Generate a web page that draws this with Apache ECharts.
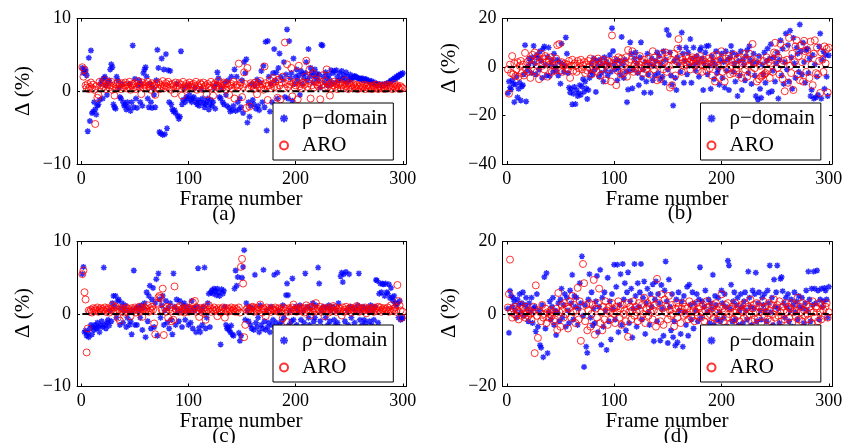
<!DOCTYPE html>
<html><head><meta charset="utf-8">
<script src="https://cdn.jsdelivr.net/npm/echarts@6/dist/echarts.min.js"></script>
<style>html,body{margin:0;padding:0;background:#fff}#c{width:847px;height:443px}</style>
</head><body><div id="c"></div><script>
const frames = Array.from({length: 300}, (_, i) => i + 1);
const xTickValues = [0, 100, 200, 300];
const seriesNames = ['ρ−domain', 'ARO'];
const panelTags = ['(a)', '(b)', '(c)', '(d)'];
const yRanges = [[-10, 10, 10], [-40, 20, 20], [-10, 10, 10], [-20, 20, 20]];

const rhoA = [
3.2,2.5,3.0,2.8,2.2,-5.5,4.6,-4.1,5.6,-3.0,-2.8,-1.5,-2.5,-3.2,-2.0,-1.8,-1.2,1.0,1.5,-1.0,
1.8,2.0,0.8,-0.5,1.2,1.5,3.0,3.7,3.3,-1.8,-2.2,-2.4,2.0,1.5,0.5,-0.8,-1.0,1.0,-1.5,-2.0,
-1.8,-2.5,-1.5,-2.2,1.0,-2.7,-1.5,6.3,-2.2,1.7,-1.0,-2.3,0.8,1.5,-1.5,1.0,-2.0,2.5,3.0,3.3,
2.0,-1.0,-2.2,1.0,-1.5,-2.3,0.5,-0.5,-2.2,1.5,5.7,3.2,-5.6,-5.8,4.5,-6.0,3.0,-5.9,5.1,-5.1,
2.9,-1.5,2.8,-1.8,-2.5,-2.8,-2.6,-3.0,1.0,-3.4,-3.8,-3.5,5.5,-1.8,-1.2,0.5,-1.5,-0.8,-1.0,0.8,
-0.5,-1.2,-1.5,-1.0,-0.8,0.5,-1.5,-1.8,-1.2,-2.0,-1.5,0.3,-1.0,-1.6,-2.2,-1.8,-1.4,-1.0,-2.5,-1.8,
-1.2,-2.0,-1.5,0.5,-2.4,1.0,2.6,1.8,-0.8,-1.0,0.5,-1.5,-1.8,1.2,-0.5,-2.0,1.5,-2.3,-2.8,2.0,
-2.6,-2.0,3.0,-2.7,2.0,-1.5,-2.5,-1.0,-2.2,1.5,-3.0,4.0,2.5,4.4,-4.3,-1.5,-3.5,-2.0,1.0,-1.2,
-1.8,0.8,-2.4,1.6,-2.0,-2.6,1.2,2.8,-1.5,3.5,-2.2,6.8,-5.4,6.9,2.0,-2.8,1.0,-1.5,2.5,5.8,
1.5,2.6,-1.0,3.2,5.2,2.0,-2.0,1.6,4.0,-0.8,2.3,8.5,-1.0,6.9,1.8,2.5,-1.3,4.5,1.0,2.0,
3.0,1.5,2.2,-0.5,2.8,1.0,2.4,1.8,2.5,4.0,1.5,5.8,2.0,3.2,2.6,1.2,2.2,3.0,1.8,2.4,
1.5,2.3,0.5,6.4,6.3,2.0,1.2,2.6,1.8,0.8,2.2,1.5,2.9,1.0,2.5,2.8,1.2,2.9,2.0,1.5,
2.5,1.6,2.8,1.8,2.2,1.4,2.6,1.2,2.0,1.5,2.3,1.6,1.8,2.0,2.1,2.0,1.9,1.8,1.8,1.7,
1.7,1.8,1.6,1.5,1.7,1.6,1.4,1.5,1.3,1.2,1.4,1.1,1.0,1.2,0.9,1.0,0.8,1.0,0.9,0.8,
0.9,0.8,1.0,0.9,1.1,1.0,1.2,1.3,1.5,1.4,1.6,1.8,1.7,2.0,1.9,2.2,2.1,2.4,2.3,2.5
];
const aroA = [
3.3,2.0,3.0,0.8,0.5,1.0,0.3,0.6,1.2,0.4,0.9,0.2,-4.5,0.7,-0.9,-0.5,1.3,0.8,0.4,1.1,
0.6,1.5,0.3,0.9,1.2,0.5,0.8,1.3,0.2,0.7,-0.6,1.0,0.4,1.2,0.6,0.9,0.3,1.1,0.5,0.8,
1.2,0.4,0.9,0.6,1.3,0.2,0.8,1.0,0.5,1.1,0.3,0.7,1.4,0.6,0.9,-0.4,1.2,0.5,0.8,1.0,
0.4,1.3,0.7,0.9,0.2,1.1,0.6,0.8,-0.5,1.0,0.5,1.2,0.3,0.9,0.7,1.4,0.4,0.8,1.1,0.6,
1.3,0.5,0.9,0.2,1.0,0.7,-0.3,1.2,0.6,0.8,1.1,0.4,0.9,-0.6,1.3,0.5,0.7,1.0,0.3,0.8,
1.2,0.6,0.9,0.4,1.0,0.7,1.3,0.2,0.8,0.5,1.1,0.9,0.3,1.2,0.6,0.8,-0.4,1.0,0.5,0.7,
1.3,0.4,-0.6,0.9,1.1,0.6,0.8,1.4,0.3,1.0,0.7,0.5,1.2,0.9,0.2,1.1,0.6,-0.5,0.8,1.0,
0.4,1.3,-1.0,0.7,0.9,0.5,3.8,0.8,1.2,-0.8,0.6,2.6,1.0,-2.3,3.2,0.4,-2.1,1.1,0.7,0.9,
0.3,1.2,0.8,-0.4,1.0,0.6,1.4,0.5,0.9,0.2,3.4,1.1,0.7,-1.2,0.8,1.5,0.4,1.0,1.8,0.6,
1.3,0.5,-0.9,1.6,0.8,-1.1,1.2,2.0,0.4,6.7,1.0,3.7,0.6,1.4,0.9,3.2,-0.7,1.1,0.5,0.8,
1.3,-1.1,3.5,0.7,1.0,0.4,1.2,0.9,2.0,4.2,0.6,1.1,3.0,-1.0,0.8,2.5,0.5,1.3,1.6,0.9,
0.7,1.2,-1.1,0.8,2.2,1.0,0.5,1.4,3.0,0.6,0.9,-0.6,1.1,0.4,0.8,1.3,0.6,1.0,0.3,0.9,
1.2,0.5,0.8,1.0,0.4,1.5,0.7,0.9,0.3,1.1,0.6,0.8,0.4,1.0,0.7,0.5,0.9,0.3,0.6,0.8,
0.4,0.7,0.5,0.9,0.3,0.6,0.8,0.4,0.7,0.5,0.3,0.8,0.6,0.4,0.9,0.5,0.3,0.7,0.6,0.4,
0.8,0.5,0.3,0.7,0.9,0.4,0.6,0.8,0.5,0.3,0.7,1.0,0.4,0.6,0.8,0.5,0.3,0.7,0.5,0.4
];
const rhoB = [
-10.8,-6.0,-8.5,-9.2,-5.5,-7.0,-14.5,-7.2,-4.0,-12.5,-9.0,-6.5,-13.8,-8.0,-7.5,-3.0,9.0,-14.2,-1.5,0.5,
3.5,2.0,-2.5,4.0,8.7,1.5,-3.0,5.0,3.8,-1.0,6.5,2.5,-4.5,7.6,8.5,0.8,-3.5,4.2,8.0,-3.7,
1.0,2.8,-2.0,5.5,0.3,-1.5,3.0,-3.5,2.2,-6.9,9.6,1.2,-2.0,0.5,12.2,5.5,-2.5,-8.5,-10.5,-9.0,
-15.4,-11.0,-8.2,-15.3,-9.5,-12.0,-10.8,-7.5,-11.5,-8.0,-5.0,-10.2,-6.0,-8.8,-13.2,-9.5,-4.5,-2.0,1.5,-3.0,
3.5,-1.0,-10.3,2.5,0.5,-4.0,3.0,-2.5,1.0,-6.0,4.0,-1.5,2.0,-3.5,0.8,5.0,-2.0,16.0,6.6,1.5,
-1.0,3.0,-5.5,-0.5,2.5,-3.0,12.4,1.0,-4.5,3.0,-2.0,-14.5,-9.3,-1.5,10.2,5.5,-8.8,-1.0,3.5,6.0,
1.5,-2.5,-7.5,4.0,10.2,-4.5,-1.0,-10.6,2.0,-6.0,5.5,-3.0,1.0,-10.6,3.5,-5.5,0.5,-3.5,2.5,6.0,
-2.5,4.5,-5.0,1.5,-4.0,6.5,-6.5,3.0,15.3,-1.0,13.2,6.0,-3.5,-7.3,-15.9,2.5,-4.5,-9.5,4.0,1.0,
8.0,-2.0,14.2,5.5,-6.5,2.5,8.0,-3.0,6.0,0.5,11.5,-6.5,3.5,8.0,1.0,-1.5,4.5,2.0,-4.0,7.0,
8.0,3.5,-9.5,1.5,6.0,8.6,-3.0,8.8,0.5,-9.0,4.5,2.5,-5.0,1.0,6.5,-2.5,-1.0,-7.3,3.0,5.5,
-4.5,2.0,-8.5,6.5,-1.5,3.0,-9.5,4.0,8.7,6.0,-2.0,1.5,-6.0,5.0,-12.0,2.5,-3.5,6.5,-9.5,3.0,
1.0,-5.5,4.5,7.0,-2.5,8.6,3.0,-7.0,1.5,5.5,-3.5,-12.0,2.0,-13.4,4.5,-9.0,-12.7,1.0,-3.0,6.0,
-6.5,2.5,7.6,-10.6,3.5,9.4,-10.0,-1.5,4.0,-6.0,1.5,6.0,-13.0,3.0,11.0,-3.5,7.5,-7.0,2.0,13.8,
-1.0,9.0,-6.0,15.0,4.0,-9.0,12.0,1.5,-4.5,8.0,5.5,-2.0,17.5,6.5,-3.0,10.0,2.0,-6.5,7.0,7.6,
-2.5,3.5,-12.0,-9.4,5.0,-13.0,1.0,-12.5,-4.0,-11.5,8.5,13.8,-13.0,3.0,6.5,-9.0,5.0,-4.0,-12.0,4.8
];
const aroB = [
-1.0,-11.0,1.0,-2.5,4.5,-3.0,1.5,-3.8,-1.0,2.0,-4.0,0.5,2.5,-2.5,1.0,-3.5,5.8,-1.0,2.0,-2.0,
3.0,-4.5,1.0,5.0,-1.5,6.0,2.5,-2.0,4.0,-5.0,2.0,5.5,0.5,3.5,-1.0,4.5,2.0,-4.0,3.0,1.0,
4.0,-2.0,2.5,0.5,-1.5,3.5,9.0,1.0,9.5,-1.5,2.0,-2.0,0.5,1.5,-0.5,1.0,-1.0,2.5,-4.5,0.5,
3.0,-1.5,1.5,0.5,-2.0,2.5,-0.5,1.5,3.0,-1.0,0.5,2.0,-2.5,1.0,-1.5,2.5,0.0,3.5,-3.0,1.5,
-1.0,2.5,0.5,-2.0,3.5,1.0,-3.5,2.0,-0.5,3.0,1.0,-5.5,0.5,2.5,-1.0,2.0,-6.0,13.0,1.5,0.5,
3.0,-7.5,-1.5,4.0,2.0,-3.0,3.5,0.5,-2.5,1.5,4.0,-4.0,7.0,2.0,-1.0,3.0,6.5,-2.0,1.0,-0.5,
2.5,-1.5,1.0,4.5,-0.5,2.0,-2.5,3.0,0.5,-1.0,1.5,3.5,-3.0,0.5,2.0,6.5,-1.0,4.0,1.5,-5.5,
0.5,3.0,-5.0,1.5,5.5,-1.0,2.0,6.0,-2.0,4.5,0.5,-8.5,3.0,-7.5,1.0,5.5,-3.5,2.5,7.5,11.5,
4.0,1.5,-2.0,3.0,0.5,2.0,4.5,1.0,3.5,2.0,-1.0,3.0,4.0,2.5,0.5,3.5,1.5,-1.5,2.5,4.5,
1.0,-2.0,3.0,0.5,2.0,-1.5,1.5,3.5,-0.5,2.5,-3.5,4.5,1.0,-6.0,2.0,5.0,0.5,-4.5,3.0,6.5,
-2.0,1.0,-6.0,3.5,-1.0,2.5,4.5,-3.0,0.5,2.0,-2.5,5.0,1.0,-1.5,3.5,-3.0,0.5,4.0,-4.5,1.5,
5.5,-1.0,2.5,-4.0,0.5,5.5,3.0,-2.5,9.5,1.5,-0.5,2.0,-6.0,3.5,-5.0,0.5,-4.0,-3.5,2.5,-3.0,
-2.5,4.0,-1.5,2.0,-4.5,1.5,3.0,-2.0,6.0,10.0,5.5,-0.5,4.0,-3.0,9.5,1.0,-5.0,2.5,-10.0,8.0,
3.0,-6.5,12.0,0.5,-2.5,5.5,-9.5,2.0,8.5,11.0,-3.0,4.5,-5.5,9.0,2.0,-6.0,10.8,6.5,-2.0,7.0,
3.5,-4.5,10.5,1.0,-7.5,5.5,11.0,-2.5,8.0,-3.0,2.5,-10.7,6.0,3.0,-2.0,8.5,1.5,7.5,-10.5,8.0
];
const rhoC = [
5.5,6.5,-2.5,-2.3,-3.0,-2.6,-3.2,-2.0,-1.5,-2.8,-1.8,-2.2,-1.5,-2.0,-1.2,-1.8,-2.5,-1.6,-1.0,-1.8,
6.4,-1.5,-2.0,-1.2,-0.8,-1.6,0.5,-1.0,1.5,2.5,1.0,2.5,-0.5,1.8,2.0,-1.5,0.8,1.5,-1.2,0.5,
1.2,-1.8,-0.5,0.5,-1.5,-1.0,-2.8,0.5,6.0,-1.5,0.8,-1.5,1.0,0.5,-0.5,1.2,-2.2,0.8,1.5,-3.2,
3.0,-1.0,2.5,3.9,-2.0,2.0,3.6,-1.8,1.5,4.8,-3.0,5.6,2.0,-0.5,1.2,2.5,-1.5,0.5,1.8,-1.2,
0.8,-2.0,1.5,-0.8,-2.8,5.6,1.0,-1.5,2.0,0.5,-1.0,1.8,0.5,-1.8,1.2,1.5,-0.8,0.5,1.0,-1.5,
0.5,-1.2,1.8,-2.0,0.8,0.5,-2.5,1.0,6.3,-1.9,-2.5,0.5,-1.5,1.0,6.4,-2.0,-0.5,1.5,2.8,-1.8,
3.0,3.3,2.8,3.5,3.2,2.6,3.5,3.0,2.5,-4.2,3.4,2.8,3.2,1.0,-1.5,-2.0,-1.8,-2.2,-2.5,-1.6,
-2.8,-3.0,3.5,6.0,3.9,5.1,-2.6,-3.7,-3.0,5.0,6.5,8.8,-0.8,1.5,0.5,-1.0,1.0,-1.5,-2.0,0.8,
-2.2,5.4,-1.2,-1.8,-0.5,-2.5,1.2,-1.5,-2.0,6.1,-1.0,-2.2,0.5,-1.8,-1.2,-2.5,1.0,-1.5,-0.8,5.4,
-2.0,-1.2,5.7,0.5,-1.5,-2.8,-1.0,1.2,-0.5,-2.0,2.6,4.2,2.6,-1.5,0.5,-1.0,4.9,-0.8,-1.8,1.0,
-1.5,0.5,-2.2,1.2,-0.8,-1.8,0.5,-1.2,5.6,-2.0,1.0,-0.5,-1.5,0.8,-2.5,1.5,-1.0,-0.5,1.2,-1.8,
6.4,4.2,-1.0,0.5,-1.8,1.0,-2.2,-0.5,0.8,-1.5,1.2,-1.0,0.5,-2.0,1.0,-0.8,-1.5,0.5,-1.2,1.5,
-1.8,5.2,5.7,4.4,5.5,-1.0,5.8,0.5,-1.5,5.5,1.0,-0.5,-1.8,0.8,-1.2,0.5,-2.0,1.2,5.6,-0.8,
0.5,-1.5,1.0,-0.8,-1.2,0.8,-1.8,0.5,-1.0,1.2,-1.5,0.5,-0.8,1.0,4.7,4.6,-1.2,2.8,4.2,3.0,
4.2,4.1,2.5,4.2,3.0,2.8,4.1,2.2,3.6,2.3,1.8,2.5,1.5,1.2,1.5,-0.5,1.8,-0.8,-0.5,-0.6
];
const aroC = [
5.5,6.0,3.0,2.0,-5.3,-2.0,0.5,0.3,0.6,0.2,0.8,0.4,0.7,0.5,0.9,0.3,0.6,0.8,0.4,0.7,
0.5,0.9,0.3,0.6,0.8,0.2,0.7,0.5,1.2,0.4,0.9,1.0,0.3,-0.5,0.6,-0.9,0.8,0.4,0.7,0.2,
0.6,0.9,0.3,0.7,0.5,-0.3,0.8,0.4,0.6,0.9,0.2,0.7,0.5,1.0,0.3,0.8,-0.4,0.6,0.9,0.4,
0.7,1.2,0.3,0.8,0.5,1.0,0.6,-1.3,-2.8,0.4,1.5,2.3,2.5,2.2,0.6,3.5,-2.9,0.8,0.3,1.0,
-0.5,0.6,0.9,-1.0,0.4,-0.8,3.8,0.7,0.5,0.9,0.3,1.1,0.6,0.4,0.8,0.2,0.7,0.5,0.9,0.3,
0.6,0.8,0.4,1.6,0.7,1.8,0.3,0.9,0.5,-0.4,0.8,0.6,0.2,0.7,0.9,-0.8,0.4,0.6,1.2,0.8,
0.3,0.7,0.5,0.9,0.4,0.6,-0.3,0.8,0.5,0.2,0.7,0.9,0.4,-0.5,0.6,0.8,0.3,0.7,0.5,0.9,
0.4,0.6,0.8,0.3,0.7,0.5,0.9,0.2,6.5,7.6,4.2,-3.2,-1.5,0.6,0.8,0.4,0.7,0.5,0.9,1.0,
0.3,0.8,0.6,0.4,0.9,0.5,1.3,0.7,0.2,0.8,0.6,-0.3,0.9,0.4,0.7,0.5,0.3,0.8,0.6,0.4,
0.9,0.5,0.7,0.3,0.8,0.6,0.4,-0.6,0.9,0.5,0.7,-1.1,0.3,0.8,0.6,0.4,0.9,1.3,0.5,0.7,
0.3,0.8,0.6,0.4,0.9,0.5,0.7,0.2,0.8,1.2,0.6,0.4,0.9,-0.2,1.0,0.3,0.8,0.6,1.5,0.4,
0.7,0.5,1.0,0.3,0.6,0.8,-0.3,0.7,0.5,0.9,0.2,0.6,0.8,0.4,1.1,0.5,0.9,0.3,0.6,0.8,
0.4,0.7,-0.2,0.9,0.3,0.6,1.0,0.4,0.7,0.5,0.9,0.2,0.6,0.8,0.4,0.7,1.1,0.9,0.3,0.6,
0.8,0.4,0.7,0.5,0.9,0.1,0.6,0.8,0.4,0.7,0.5,0.9,0.3,0.6,0.8,0.4,1.0,0.5,0.9,0.3,
0.6,0.8,0.4,0.7,0.5,0.9,0.3,0.6,1.2,0.4,0.7,0.5,0.9,0.3,4.0,1.8,1.2,0.5,-0.5,0.3
];
const rhoD = [
1.5,-5.2,6.4,5.0,2.0,4.5,3.5,1.0,-1.0,4.0,2.5,5.5,0.5,3.0,6.0,-0.5,2.5,4.5,1.5,-2.0,
3.0,0.5,4.5,-2.5,1.5,2.0,-4.8,5.5,-3.5,1.0,-8.6,-9.3,2.5,-11.9,10.2,-4.0,11.3,-10.8,0.5,3.5,
-1.5,2.0,4.5,-3.0,1.0,-5.8,0.5,3.0,-2.0,4.0,7.0,-1.0,2.5,5.5,-3.5,4.5,1.0,-2.5,6.5,3.0,
10.8,-1.5,5.0,2.0,4.5,-3.0,1.5,8.5,3.0,15.9,-0.5,-14.6,2.5,-9.0,-10.7,4.0,11.0,-1.0,6.0,-3.1,
1.5,-2.5,3.5,10.5,-5.0,2.0,12.2,-8.5,4.5,-3.5,6.0,1.0,-9.9,10.0,-2.0,3.5,-7.0,5.5,1.5,13.6,
-1.5,7.5,13.6,-5.0,2.5,11.0,-3.0,13.8,4.0,8.5,-4.5,6.0,11.5,-2.5,3.5,7.0,-6.5,1.5,13.8,5.0,
-3.5,8.5,2.0,6.0,13.8,-1.5,4.5,9.0,-5.5,3.0,7.0,0.5,-3.0,5.5,2.0,8.2,-7.5,4.0,9.0,-2.0,
5.5,3.0,-7.3,8.0,1.5,-6.0,6.5,14.5,3.5,-8.0,9.5,2.0,-4.5,5.5,-6.4,-2.0,-8.7,4.0,-7.8,6.0,
1.0,-5.5,3.5,-9.0,5.0,0.5,-3.0,7.5,-6.0,8.1,2.5,-1.5,6.0,-4.0,3.0,1.0,5.5,-2.0,4.0,12.9,
-1.0,3.5,-5.0,2.0,6.5,-4.5,0.5,4.0,-2.5,3.0,1.5,10.8,-3.0,5.0,2.5,-1.5,4.5,0.5,-2.0,6.5,
3.0,-1.0,5.5,2.0,-3.5,14.7,13.4,1.5,8.1,-2.0,3.5,6.0,-1.5,2.5,4.5,-3.0,1.0,5.5,2.0,-2.5,
3.5,6.0,1.0,-1.5,11.7,4.5,2.0,-3.0,6.5,1.5,5.5,11.4,-2.0,3.0,6.0,1.0,-1.5,4.5,2.5,5.5,
1.0,-2.0,6.5,3.0,13.4,0.5,4.5,-3.0,9.5,2.0,6.0,13.4,1.5,-2.5,9.7,10.2,6.3,3.0,-1.0,4.5,
2.0,5.5,-2.0,1.0,4.0,-3.5,2.5,6.0,0.5,3.5,-1.5,5.0,2.0,-4.0,4.5,1.5,-2.5,3.0,6.5,1.0,
11.7,4.0,-2.0,7.0,2.5,11.7,7.0,3.0,12.0,6.5,-1.5,4.0,7.0,2.0,3.5,7.2,6.5,4.0,-1.0,7.5
];
const aroD = [
1.8,5.5,15.0,0.5,-1.0,1.5,0.0,2.0,-0.5,1.0,-1.5,0.5,2.5,-0.5,1.5,0.0,-1.0,2.0,0.5,-0.5,
1.0,0.0,-1.5,0.5,2.0,-10.8,7.9,-0.5,-6.6,1.0,0.5,-2.0,2.5,-1.0,0.0,1.5,-2.5,0.5,-1.0,0.0,
1.0,-0.5,0.5,-2.0,-1.5,1.5,-4.4,5.8,0.5,-3.5,2.5,1.0,-1.0,3.0,0.0,2.0,-4.0,1.5,3.5,-1.0,
5.0,0.5,2.5,-2.5,1.0,7.2,-1.5,3.5,-7.4,0.5,13.8,8.5,-2.0,2.5,-4.5,1.0,3.0,-3.5,0.0,2.5,
9.4,-5.7,1.5,-1.0,3.0,7.0,-2.5,0.5,-4.5,2.0,-1.5,3.5,1.0,-3.0,2.0,0.5,-1.5,3.0,1.5,0.0,
-2.5,2.0,0.5,3.5,-1.0,1.5,-3.0,2.5,0.0,1.0,-2.0,3.0,-6.3,0.5,2.0,-1.5,1.0,3.5,-0.5,2.0,
0.5,-2.0,3.0,1.0,-1.0,2.5,0.0,4.5,-2.5,1.5,3.0,-0.5,2.0,0.5,4.0,-1.5,1.0,2.5,-3.5,9.7,
0.5,3.0,-2.0,5.4,1.5,-3.0,4.0,0.5,2.0,-1.5,5.0,1.0,-0.5,2.5,0.0,-3.4,1.5,3.0,-1.0,2.0,
0.5,-2.5,1.5,3.0,-0.5,2.0,0.0,1.5,-1.5,3.5,0.5,-1.0,2.5,1.0,-2.0,0.5,3.0,-0.5,1.5,2.0,
-1.0,0.5,2.5,-2.0,1.0,3.5,-0.5,2.0,0.0,-2.5,1.5,2.5,-1.0,0.5,3.0,-1.5,1.0,2.0,-0.5,5.4,
1.5,-2.0,0.5,2.5,-1.0,3.0,0.0,1.5,-2.5,2.0,0.5,-1.5,3.0,1.0,-0.5,2.0,-2.0,1.0,2.5,0.5,
-1.0,3.0,1.5,-0.5,2.0,0.0,4.0,-2.0,1.5,2.5,-1.5,0.5,3.0,-1.0,2.0,0.5,-2.5,1.5,3.5,-0.5,
2.0,0.5,-1.5,3.0,1.0,-2.0,2.5,0.0,4.0,-1.0,1.5,2.5,-0.5,3.5,0.5,-2.0,2.0,1.0,-1.5,3.0,
0.5,2.0,-1.0,1.5,3.0,-2.5,0.5,2.5,-0.5,1.0,4.5,-1.5,2.0,0.5,-2.0,3.0,1.0,-0.5,2.5,0.0,
-1.5,2.0,1.0,-2.5,3.5,0.5,-1.0,2.0,1.5,-2.0,3.0,0.5,-1.5,2.5,1.0,-0.5,2.0,3.0,-1.0,0.5
];

const rhoSets = [rhoA, rhoB, rhoC, rhoD];
const aroSets = [aroA, aroB, aroC, aroD];

// layout (pixels)
const grids = [
  {left: 77, top: 18.5, width: 329, height: 145.5},
  {left: 502.5, top: 18.5, width: 329.5, height: 145.5},
  {left: 77, top: 241.5, width: 329, height: 145},
  {left: 502.5, top: 241.5, width: 329.5, height: 145}
];
const legendPos = [
  {left: 273, top: 103}, {left: 700.5, top: 103},
  {left: 273, top: 325}, {left: 700.5, top: 325}
];
const ylabPos = [[23, 91], [449, 68], [23, 313], [449, 313]];
const xlabPos = [[241, 199.5], [667, 199.5], [241, 421], [667, 421]];
const tagPos = [[224, 214], [680, 213], [224, 436], [676, 436]];

const FONT = '"Liberation Serif", "Times New Roman", serif';
const asterisk = 'path://M-1.2,-5L1.2,-5L1.2,5L-1.2,5ZM-5,-1.2L5,-1.2L5,1.2L-5,1.2ZM2.7,4.4L-4.4,-2.7L-2.7,-4.4L4.4,2.7ZM-2.7,4.4L-4.4,2.7L2.7,-4.4L4.4,-2.7Z';
const fmtMinus = v => String(v).replace('-', '−');

const option = {
  backgroundColor: '#fff',
  animation: false,
  grid: grids.map(g => Object.assign({containLabel: false}, g)),
  xAxis: [], yAxis: [], series: [], legend: [], graphic: []
};

grids.forEach((g, i) => {
  const [ymin, ymax, ystep] = yRanges[i];
  option.xAxis.push({
    gridIndex: i, type: 'value', min: -4, max: 303, splitNumber: 3,
    axisLine: {onZero: false, lineStyle: {color: '#000', width: 1}},
    axisTick: {inside: true, length: 3, lineStyle: {color: '#000'}, customValues: xTickValues},
    axisLabel: {customValues: xTickValues,
      color: '#000', fontFamily: FONT, fontSize: 18, margin: 6},
    splitLine: {show: false}
  });
  option.xAxis.push({
    gridIndex: i, type: 'value', position: 'top', min: -4, max: 303, splitNumber: 3,
    axisLine: {onZero: false, lineStyle: {color: '#000', width: 1}},
    axisTick: {inside: true, length: 3, lineStyle: {color: '#000'}, customValues: xTickValues},
    axisLabel: {show: false}, splitLine: {show: false}
  });
  option.yAxis.push({
    gridIndex: i, type: 'value', min: ymin, max: ymax, interval: ystep,
    axisLine: {show: true, onZero: false, lineStyle: {color: '#000', width: 1}},
    axisTick: {show: true, inside: true, length: 3, lineStyle: {color: '#000'}},
    axisLabel: {color: '#000', fontFamily: FONT, fontSize: 18, margin: 6, formatter: fmtMinus},
    splitLine: {show: false}
  });
  option.yAxis.push({
    gridIndex: i, type: 'value', position: 'right', min: ymin, max: ymax, interval: ystep,
    axisLine: {show: true, onZero: false, lineStyle: {color: '#000', width: 1}},
    axisTick: {show: true, inside: true, length: 3, lineStyle: {color: '#000'}},
    axisLabel: {show: false}, splitLine: {show: false}
  });
  const xi = i * 2, yi = i * 2;
  option.series.push({
    name: seriesNames[0], type: 'scatter', xAxisIndex: xi, yAxisIndex: yi,
    symbol: asterisk, symbolSize: 6, silent: true, z: 2,
    itemStyle: {color: '#0000ff'},
    data: rhoSets[i].map((v, k) => [frames[k], v])
  });
  option.series.push({
    name: seriesNames[1], type: 'scatter', xAxisIndex: xi, yAxisIndex: yi,
    symbol: 'circle', symbolSize: 7, silent: true, z: 3,
    itemStyle: {color: 'rgba(255,255,255,0)', borderColor: '#ff0000', borderWidth: 1},
    data: aroSets[i].map((v, k) => [frames[k], v])
  });
  option.series.push({
    name: 'zero', type: 'line', xAxisIndex: xi, yAxisIndex: yi, silent: true, z: 4,
    symbol: 'none', lineStyle: {color: '#000', width: 2, type: [7, 3, 2, 3]},
    data: [[frames[0], 0], [frames[frames.length - 1], 0]]
  });
  option.legend.push({
    orient: 'vertical', left: legendPos[i].left, top: legendPos[i].top,
    data: seriesNames, selectedMode: false, z: 10,
    backgroundColor: '#fff', borderColor: '#000', borderWidth: 1, borderRadius: 0,
    padding: [5, 6, 4, 6], itemGap: 6, itemWidth: 26, itemHeight: 8,
    textStyle: {color: '#000', fontFamily: FONT, fontSize: 21}
  });
  option.graphic.push({
    type: 'text', x: ylabPos[i][0], y: ylabPos[i][1], rotation: Math.PI / 2,
    style: {text: 'Δ (%)', font: '21px ' + FONT, fill: '#000', align: 'center', verticalAlign: 'middle'}
  });
  option.graphic.push({
    type: 'text', x: xlabPos[i][0], y: xlabPos[i][1],
    style: {text: 'Frame number', font: '21px ' + FONT, fill: '#000', align: 'center', verticalAlign: 'middle'}
  });
  option.graphic.push({
    type: 'text', x: tagPos[i][0], y: tagPos[i][1],
    style: {text: panelTags[i], font: '21px ' + FONT, fill: '#000', align: 'center', verticalAlign: 'middle'}
  });
});

const chart = echarts.init(document.getElementById('c'), null, {renderer: 'canvas', width: 847, height: 443});
chart.setOption(option);
</script></body></html>
